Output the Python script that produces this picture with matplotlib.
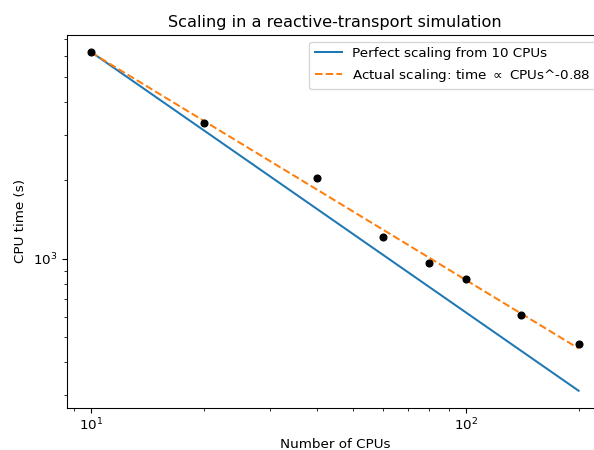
import numpy as np
import matplotlib
matplotlib.use("Agg")
import matplotlib.pyplot as plt

cpus = [10, 20, 40, 60, 80, 100, 140, 200]
cpu_time = [6230, 3310, 2035, 1218, 968, 835, 609, 469]

title = "Scaling in a reactive-transport simulation"
xlabel = "Number of CPUs"
ylabel = "CPU time (s)"
label_perfect = "Perfect scaling from 10 CPUs"
label_actual = "Actual scaling: time $\\propto$ CPUs^-0.88"

x = np.array(cpus, dtype=float)
y = np.array(cpu_time, dtype=float)

DPI = 97
fig = plt.figure(figsize=(594 / DPI, 450 / DPI), dpi=DPI)
ax = fig.add_axes([66.6 / 594, 1 - 407.7 / 450, (603 - 66.6) / 594, (407.7 - 35) / 450])

perfect = y[0] * x[0] / x
slope, intercept = np.polyfit(np.log10(x), np.log10(y), 1)
fit = 10 ** (intercept + slope * np.log10(x))

ax.plot(x, perfect, color="#1f77b4", lw=1.5, label=label_perfect)
ax.plot(x, fit, color="#ff7f0e", lw=1.5, ls="--", label=label_actual)
ax.plot(x, y, "o", color="black", ms=5, zorder=3)

ax.set_xscale("log")
ax.set_yscale("log")
ax.set_title(title, fontsize=12)
ax.set_xlabel(xlabel, labelpad=3)
ax.set_ylabel(ylabel)
ax.legend(loc="upper right")

fig.savefig("out.png", dpi=DPI)
